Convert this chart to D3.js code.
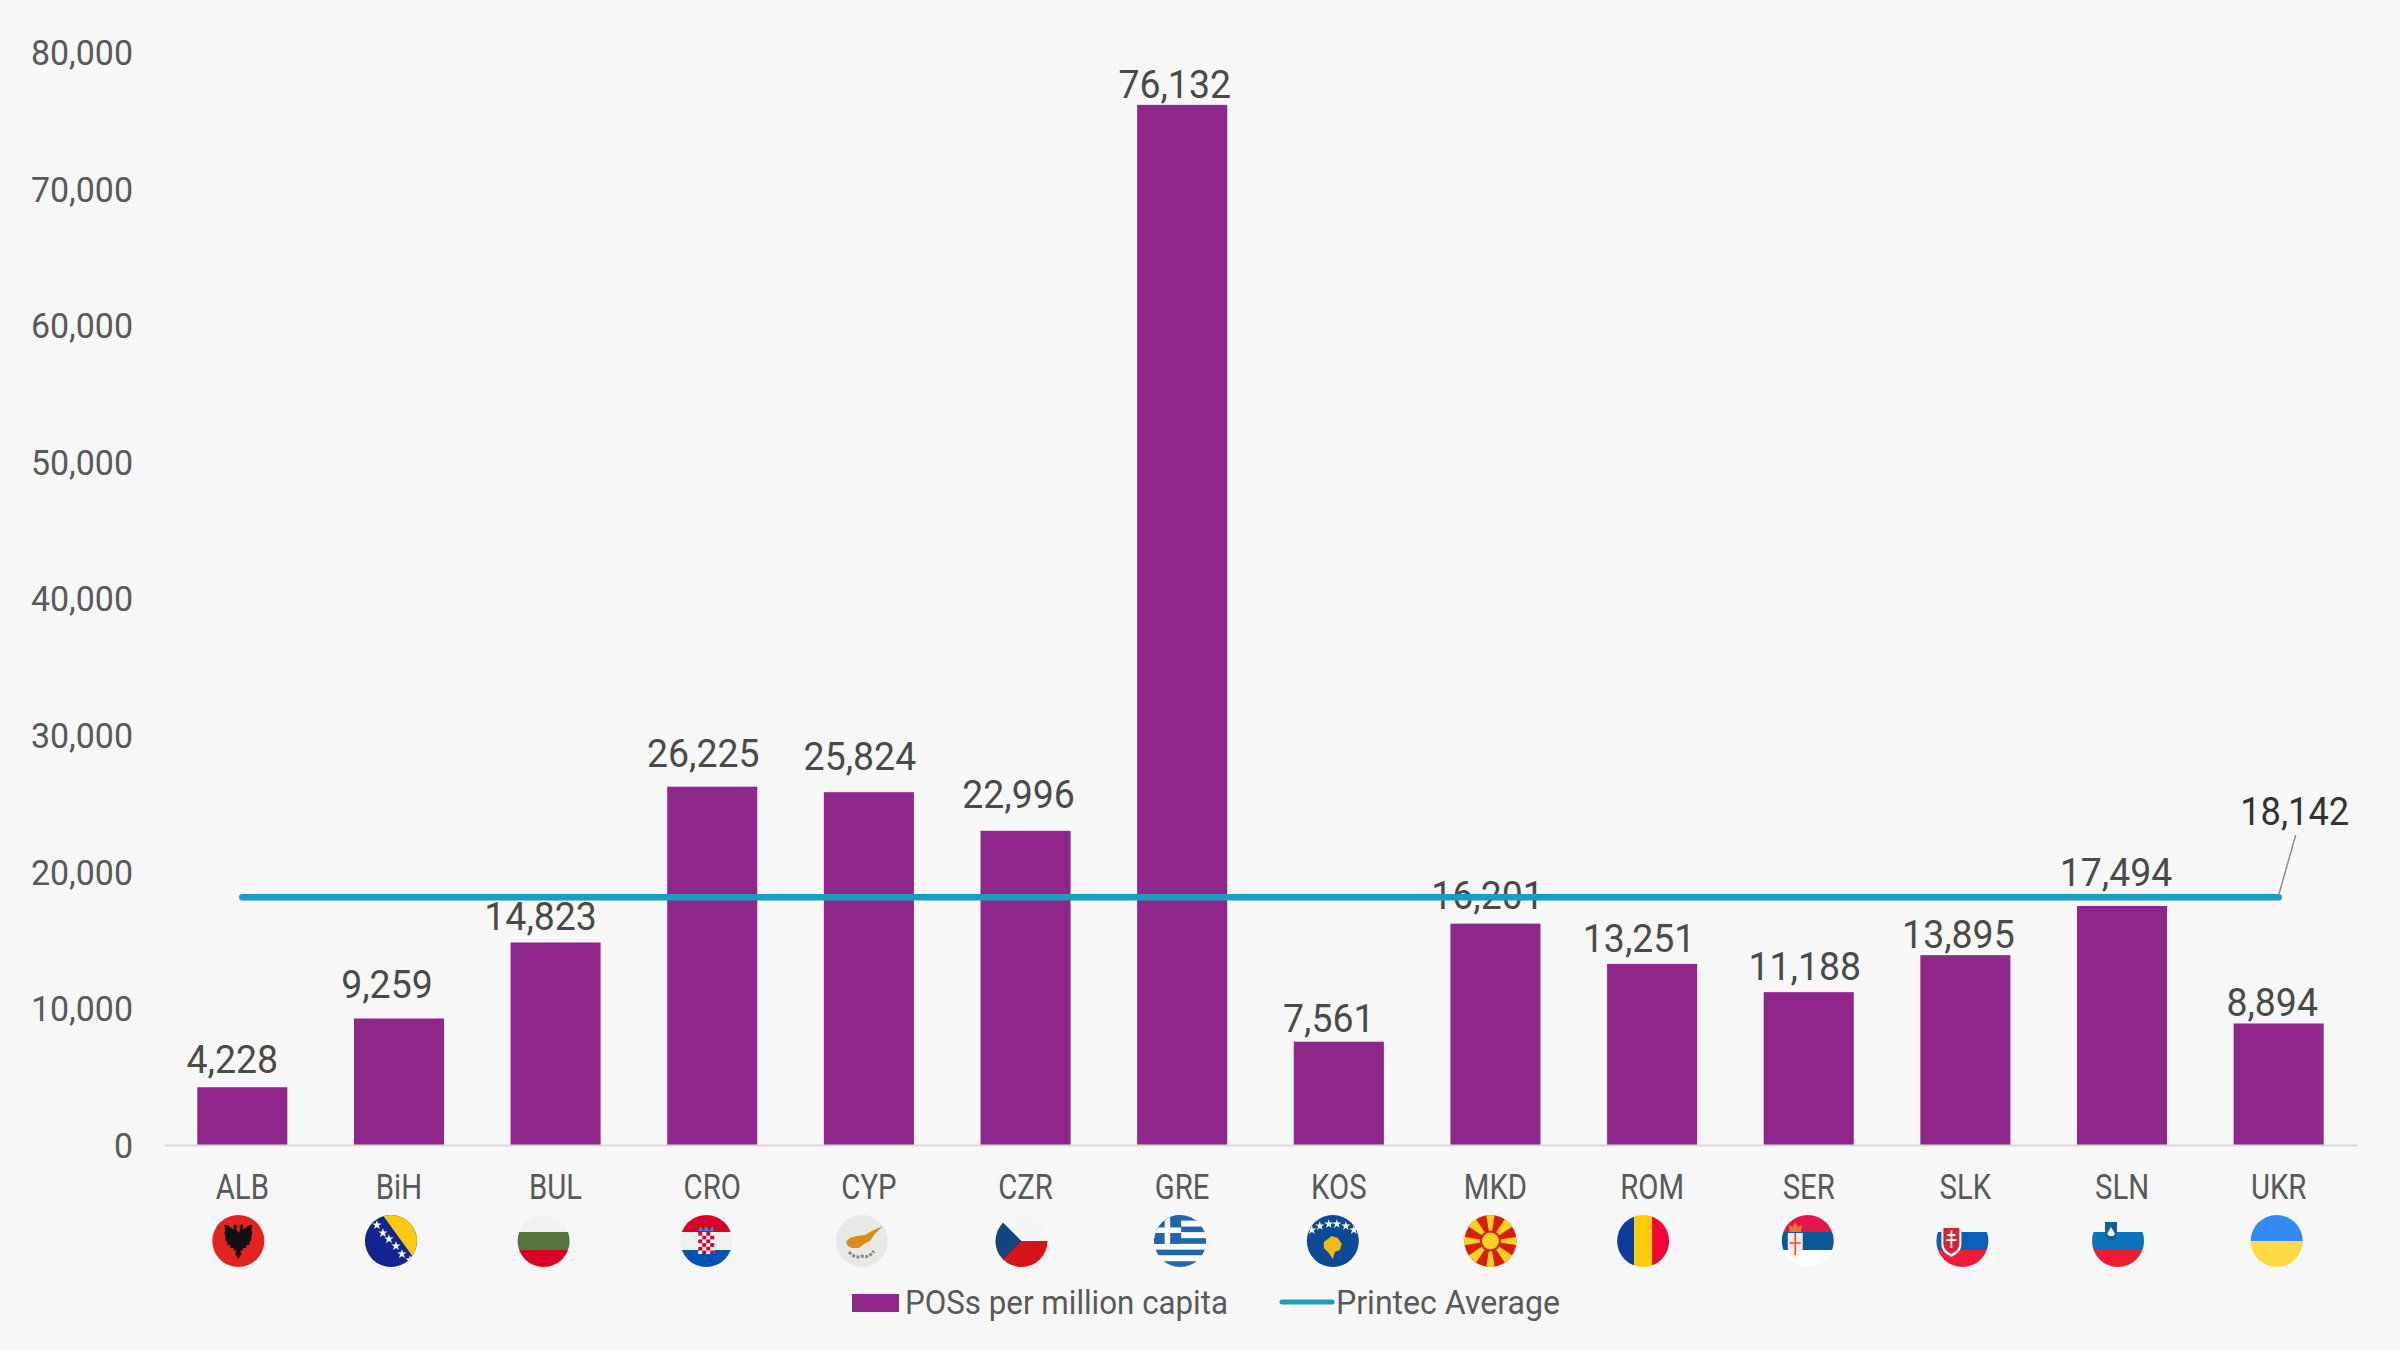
<html>

<head>
	<title>POS per million capita</title>
	<script type="text/javascript" src="https://cdn.jsdelivr.net/npm/d3@7"></script>
	<style>
		html, body { margin: 0; padding: 0; background: #f7f7f7; }
		svg { display: block; }
		text { font-family: Roboto, sans-serif; }
	</style>
</head>

<body>
	<script type="text/javascript">
		// Data
		const categories = ["ALB", "BiH", "BUL", "CRO", "CYP", "CZR", "GRE", "KOS", "MKD", "ROM", "SER", "SLK", "SLN", "UKR"];
		const posValues = [4228, 9259, 14823, 26225, 25824, 22996, 76132, 7561, 16201, 13251, 11188, 13895, 17494, 8894];
		const printecAverage = 18142;
		const yTicks = [0, 10000, 20000, 30000, 40000, 50000, 60000, 70000, 80000];
		const legendLabels = ["POSs per million capita", "Printec Average"];

		// Flags and value labels were placed by hand in the original, so they sit a bit off the bars
		const flagShift = [-4, -8, -12, -6, -7, -4, -2, -6, -5, -9, -1, -3, -4, -2];
		const labelShift = [-10, -12, -15, -9, -9, -7, -7.5, -10, -8, -13, -4, -7, -6, -6.5];
		const labelGap = [14, 20, 12.5, 20, 22, 22.5, 7, 10, 15, 12, 12, 7, 20, 7];

		const w = 2400;
		const h = 1350;
		const purple = "#8f278b";
		const teal = "#1a9ebf";

		const xScale = d3.scaleBand()
			.domain(categories)
			.range([164, 2357])
			.paddingInner(0.425)
			.paddingOuter(0.2125);

		const yScale = d3.scaleLinear()
			.domain([0, 80000])
			.range([1145, 52]);

		const fmt = d3.format(",");

		const svg = d3.select("body")
			.append("svg")
			.attr("width", w)
			.attr("height", h);

		svg.append("rect")
			.attr("width", w)
			.attr("height", h)
			.attr("fill", "#f7f7f7");

		// y axis, no line, only labels
		const yAxis = svg.append("g")
			.attr("transform", "translate(133,0)")
			.call(d3.axisLeft(yScale).tickValues(yTicks).tickFormat(fmt).tickSize(0).tickPadding(0));
		yAxis.select(".domain").remove();
		yAxis.selectAll("text")
			.attr("dy", "0.355em")
			.attr("transform", "scale(0.97,1)")
			.attr("font-size", 35)
			.attr("fill", "#595959");

		// bars
		svg.selectAll("rect.bar")
			.data(posValues)
			.enter()
			.append("rect")
			.attr("class", "bar")
			.attr("x", function (d, i) { return xScale(categories[i]); })
			.attr("y", function (d) { return yScale(d); })
			.attr("width", xScale.bandwidth())
			.attr("height", function (d) { return yScale(0) - yScale(d); })
			.attr("fill", purple);

		// x axis
		const xAxis = svg.append("g")
			.attr("transform", "translate(0,1145)")
			.call(d3.axisBottom(xScale).tickSize(0).tickPadding(30));
		xAxis.select(".domain")
			.attr("stroke", "#d9d9d9")
			.attr("stroke-width", 2);
		xAxis.selectAll("text")
			.attr("transform", "scale(0.85,1)")
			.attr("font-size", 34.5)
			.attr("fill", "#595959");

		// bar labels
		svg.selectAll("text.value")
			.data(posValues)
			.enter()
			.append("text")
			.attr("class", "value")
			.attr("transform", function (d, i) {
				const cx = xScale(categories[i]) + xScale.bandwidth() / 2 + labelShift[i];
				return "translate(" + cx + "," + (yScale(d) - labelGap[i]) + ") scale(0.96,1)";
			})
			.attr("text-anchor", "middle")
			.attr("font-size", 39)
			.attr("fill", "#4a4a4a")
			.text(function (d) { return fmt(d); });

		// Printec average line
		const avgLine = d3.line()
			.x(function (c) { return xScale(c) + xScale.bandwidth() / 2; })
			.y(function () { return yScale(printecAverage); });

		svg.append("path")
			.attr("d", avgLine([categories[0], categories[categories.length - 1]]))
			.attr("fill", "none")
			.attr("stroke", teal)
			.attr("stroke-width", 6.5)
			.attr("stroke-linecap", "round");

		// leader and label for the average
		const lastX = xScale(categories[categories.length - 1]) + xScale.bandwidth() / 2;
		svg.append("line")
			.attr("x1", lastX)
			.attr("y1", yScale(printecAverage) - 2)
			.attr("x2", lastX + 17)
			.attr("y2", yScale(printecAverage) - 62)
			.attr("stroke", "#8c8c8c")
			.attr("stroke-width", 1.5);
		svg.append("text")
			.attr("transform", "translate(" + (lastX + 16) + "," + (yScale(printecAverage) - 72) + ") scale(0.93,1)")
			.attr("text-anchor", "middle")
			.attr("font-size", 39)
			.attr("fill", "#333333")
			.text(fmt(printecAverage));

		// Flags, all in a circle of radius 26 around 0,0
		function bands(g, colours, stops) {
			colours.forEach(function (c, i) {
				g.append("rect").attr("x", -27).attr("width", 54)
					.attr("y", stops[i]).attr("height", stops[i + 1] - stops[i]).attr("fill", c);
			});
		}
		function poly(g, pts, fill) {
			return g.append("path").attr("d", "M" + pts.map(function (p) { return p.join(","); }).join("L") + "Z").attr("fill", fill);
		}
		function star(g, x, y, size, fill) {
			g.append("path")
				.attr("d", d3.symbol(d3.symbolStar).size(size)())
				.attr("transform", "translate(" + x + "," + y + ")")
				.attr("fill", fill);
		}
		const thirds = [-27, -9, 9, 27];

		const flags = {
			ALB: function (g) {
				bands(g, ["#e2231f"], [-27, 27]);
				const half = [[0, -8], [2, -12], [1, -15], [4, -17], [5, -14], [4, -11], [7, -13], [11, -16], [14, -16], [13, -11], [14, -8], [13, -5], [13, -1], [11, 1], [11, 4], [8, 4], [8, 7], [5, 7], [4, 10], [2, 9], [3, 13], [1, 16], [0, 18]];
				const other = half.slice().reverse().map(function (p) { return [-p[0], p[1]]; });
				poly(g, half.concat(other), "#111111");
			},
			BiH: function (g) {
				bands(g, ["#10258f"], [-27, 27]);
				poly(g, [[-9, -27], [30, -27], [30, 27]], "#fdc80d");
				[[-14, -16], [-8, -8], [-2, -2], [5, 5], [11, 13], [19, 19]].forEach(function (p) {
					star(g, p[0], p[1], 28, "#ffffff");
				});
			},
			BUL: function (g) {
				bands(g, ["#f2f2f2", "#55763c", "#d80027"], thirds);
			},
			CRO: function (g) {
				bands(g, ["#d80027", "#f0f0f0", "#0052b4"], thirds);
				g.append("rect").attr("x", -8).attr("y", -9).attr("width", 16).attr("height", 22).attr("fill", "#ffffff");
				for (let r = 0; r < 6; r++) {
					for (let c = 0; c < 4; c++) {
						if ((r + c) % 2 === 0) {
							g.append("rect").attr("x", -8 + c * 4).attr("y", -9 + r * 3.7).attr("width", 4).attr("height", 3.7).attr("fill", "#d80027");
						}
					}
				}
				poly(g, [[-8, -10], [-6, -15], [-3, -10], [0, -15], [3, -10], [6, -15], [8, -10]], "#338af3");
			},
			CYP: function (g) {
				bands(g, ["#e8e8e8"], [-27, 27]);
				poly(g, [[-16, 1], [-12, -3], [-5, -5], [3, -6], [10, -10], [21, -15], [13, -7], [8, 0], [2, 3], [-3, 7], [-10, 7], [-14, 5]], "#d98c1a");
				g.append("path").attr("d", "M-13,11 Q-6,18 0,15 Q6,18 12,10").attr("fill", "none")
					.attr("stroke", "#8a8a70").attr("stroke-width", 3).attr("stroke-dasharray", "3 1.5");
			},
			CZR: function (g) {
				bands(g, ["#f5f5f5", "#d7141a"], [-27, 0, 27]);
				poly(g, [[-27, -27], [0, 0], [-27, 27]], "#11457e");
			},
			GRE: function (g) {
				for (let i = 0; i < 9; i++) {
					g.append("rect").attr("x", -27).attr("width", 54).attr("y", -26 + i * 5.78).attr("height", 5.78)
						.attr("fill", i % 2 === 0 ? "#1f66b0" : "#ffffff");
				}
				g.append("rect").attr("x", -27).attr("y", -27).attr("width", 28).attr("height", 30).attr("fill", "#1f66b0");
				g.append("rect").attr("x", -27).attr("y", -13.5).attr("width", 28).attr("height", 5.5).attr("fill", "#ffffff");
				g.append("rect").attr("x", -15.5).attr("y", -27).attr("width", 5.5).attr("height", 30).attr("fill", "#ffffff");
			},
			KOS: function (g) {
				bands(g, ["#0d4a96"], [-27, 27]);
				[[-21, -11], [-13, -15], [-4, -17], [4, -17], [13, -15], [21, -11]].forEach(function (p) {
					star(g, p[0], p[1], 26, "#ffffff");
				});
				poly(g, [[-1, -5], [5, -3], [9, 3], [7, 9], [2, 11], [0, 18], [-4, 12], [-9, 7], [-9, 1], [-5, -2]], "#f5b916");
			},
			MKD: function (g) {
				bands(g, ["#d81e05"], [-27, 27]);
				for (let a = 0; a < 8; a++) {
					const t = a * Math.PI / 4;
					const wide = a % 2 === 0 ? 0.16 : 0.2;
					poly(g, [[0, 0], [34 * Math.cos(t - wide), 34 * Math.sin(t - wide)], [34 * Math.cos(t + wide), 34 * Math.sin(t + wide)]], "#ffd21f");
				}
				g.append("circle").attr("r", 10.5).attr("fill", "#d81e05");
				g.append("circle").attr("r", 8.5).attr("fill", "#ffd21f");
			},
			ROM: function (g) {
				g.append("rect").attr("x", -27).attr("y", -27).attr("width", 18).attr("height", 54).attr("fill", "#0a3d9c");
				g.append("rect").attr("x", -9).attr("y", -27).attr("width", 18).attr("height", 54).attr("fill", "#fccb0c");
				g.append("rect").attr("x", 9).attr("y", -27).attr("width", 18).attr("height", 54).attr("fill", "#f0053a");
			},
			SER: function (g) {
				bands(g, ["#e4174a", "#0b5a96", "#ffffff"], [-27, -9, 9, 27]);
				poly(g, [[-20, -8], [-5, -8], [-5, 8], [-12.5, 18], [-20, 8]], "#f4e8e8");
				g.append("path").attr("d", "M-12.5,-8V14M-18,2H-7").attr("stroke", "#d9532f").attr("stroke-width", 1.6).attr("fill", "none");
				poly(g, [[-18, -9], [-19, -16], [-15, -14], [-12.5, -19], [-10, -14], [-6, -16], [-7, -9]], "#e8772e");
			},
			SLK: function (g) {
				bands(g, ["#f7f7f7", "#0b5fb4", "#ee1c3a"], thirds);
				g.append("path").attr("d", "M-21,-15H-1V4Q-1,11 -11,16Q-21,11 -21,4Z").attr("fill", "#ffffff");
				g.append("path").attr("d", "M-19,-13H-3V3Q-3,9 -11,13Q-19,9 -19,3Z").attr("fill", "#d6243a");
				g.append("path").attr("d", "M-11,-11V7M-15,-6H-7M-16,-1H-6").attr("stroke", "#ffffff").attr("stroke-width", 1.8).attr("fill", "none");
			},
			SLN: function (g) {
				bands(g, ["#f7f7f7", "#0d72b9", "#ef1c33"], thirds);
				g.append("path").attr("d", "M-13,-19H-1V-9Q-1,-3 -7,0Q-13,-3 -13,-9Z").attr("fill", "#0d5f9e");
				poly(g, [[-11, -7], [-7, -14], [-3, -7], [-5, -5], [-9, -5]], "#ffffff");
			},
			UKR: function (g) {
				bands(g, ["#338af3", "#ffda44"], [-27, 0, 27]);
			}
		};

		const defs = svg.append("defs");
		defs.append("clipPath").attr("id", "flagClip").append("circle").attr("r", 26);

		svg.selectAll("g.flag")
			.data(categories)
			.enter()
			.append("g")
			.attr("class", "flag")
			.attr("transform", function (c, i) {
				return "translate(" + (xScale(c) + xScale.bandwidth() / 2 + flagShift[i]) + ",1241)";
			})
			.append("g")
			.attr("clip-path", "url(#flagClip)")
			.each(function (c) { flags[c](d3.select(this)); });

		// legend
		svg.append("rect")
			.attr("x", 852)
			.attr("y", 1294)
			.attr("width", 47)
			.attr("height", 18)
			.attr("fill", purple);
		svg.append("text")
			.attr("x", 905)
			.attr("y", 1314)
			.attr("textLength", 323)
			.attr("lengthAdjust", "spacingAndGlyphs")
			.attr("font-size", 34)
			.attr("fill", "#595959")
			.text(legendLabels[0]);
		svg.append("line")
			.attr("x1", 1282)
			.attr("x2", 1332)
			.attr("y1", 1302)
			.attr("y2", 1302)
			.attr("stroke", teal)
			.attr("stroke-width", 5)
			.attr("stroke-linecap", "round");
		svg.append("text")
			.attr("x", 1336)
			.attr("y", 1314)
			.attr("textLength", 224)
			.attr("lengthAdjust", "spacingAndGlyphs")
			.attr("font-size", 34)
			.attr("fill", "#595959")
			.text(legendLabels[1]);
	</script>
</body>

</html>
